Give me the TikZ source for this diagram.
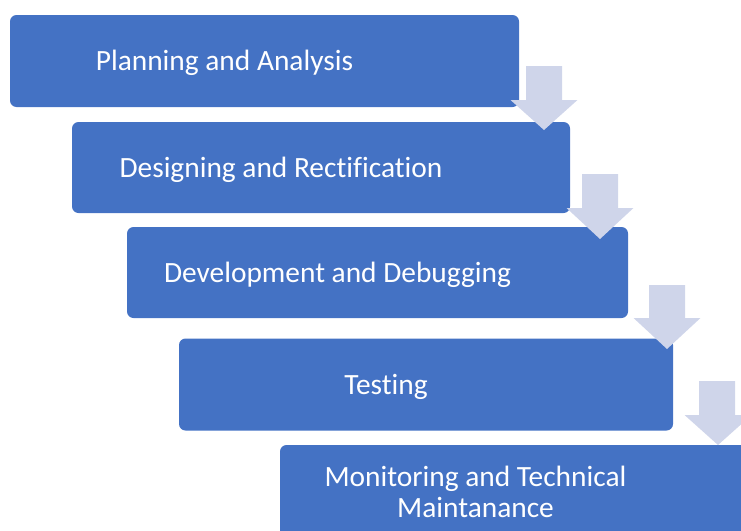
\documentclass[tikz,border=0pt]{standalone}
\usepackage{fontspec}
\setmainfont{Carlito}[Ligatures=NoCommon]
\definecolor{stageblue}{HTML}{4472C4}
\definecolor{flowlav}{HTML}{CFD5EA}

\begin{document}
\begin{tikzpicture}[x=1pt,y=1pt,yscale=-1,xscale=1,
  stage/.style={fill=stageblue,draw=none,rounded corners=6.5pt,inner sep=0pt,minimum height=92pt},
  stagetext/.style={text=white,inner sep=0pt,align=center,font=\fontsize{29.4}{31}\selectfont},
  flow/.style={fill=flowlav,draw=none}]
\useasboundingbox (0,0) rectangle (741,530);

% Stage boxes
\draw (264.5,61) node (plan) [stage, minimum width=509pt] {};
\draw (321,167.5) node (design) [stage, minimum width=498pt, minimum height=91pt] {};
\draw (377.5,272.5) node (develop) [stage, minimum width=501pt, minimum height=91pt] {};
\draw (426,384.5) node (test) [stage, minimum width=494pt, minimum height=92pt] {};
\draw (515.5,491) node (monitor) [stage, minimum width=471pt] {};

% Shape: Down Arrow
\draw [flow] (526,66) -- (562,66) -- (562,100) -- (577.5,100) -- (544,130) -- (510.5,100) -- (526,100) -- cycle ;
% Shape: Down Arrow
\draw [flow] (582,174) -- (618,174) -- (618,208) -- (633.5,208) -- (600,239) -- (566.5,208) -- (582,208) -- cycle ;
% Shape: Down Arrow
\draw [flow] (649,285) -- (685,285) -- (685,318) -- (700.5,318) -- (667,349) -- (633.5,318) -- (649,318) -- cycle ;
% Shape: Down Arrow
\draw [flow] (699,381) -- (735,381) -- (735,415) -- (751.5,415) -- (718,445) -- (684.5,415) -- (699,415) -- cycle ;

% Text Node
\draw ([xshift=-40pt,yshift=2pt]plan.center) node (plan text) [stagetext] {Planning and Analysis};
% Text Node
\draw ([xshift=-40pt,yshift=2pt]design.center) node (design text) [stagetext] {Designing and Rectification};
% Text Node
\draw ([xshift=-40pt,yshift=2pt]develop.center) node (develop text) [stagetext] {Development and Debugging};
% Text Node
\draw ([xshift=-40pt,yshift=2pt]test.center) node (test text) [stagetext] {Testing};
% Text Node
\draw ([xshift=-40pt,yshift=1pt]monitor.center) node (monitor text) [stagetext] {Monitoring and Technical\\Maintanance};

\end{tikzpicture}
\end{document}
